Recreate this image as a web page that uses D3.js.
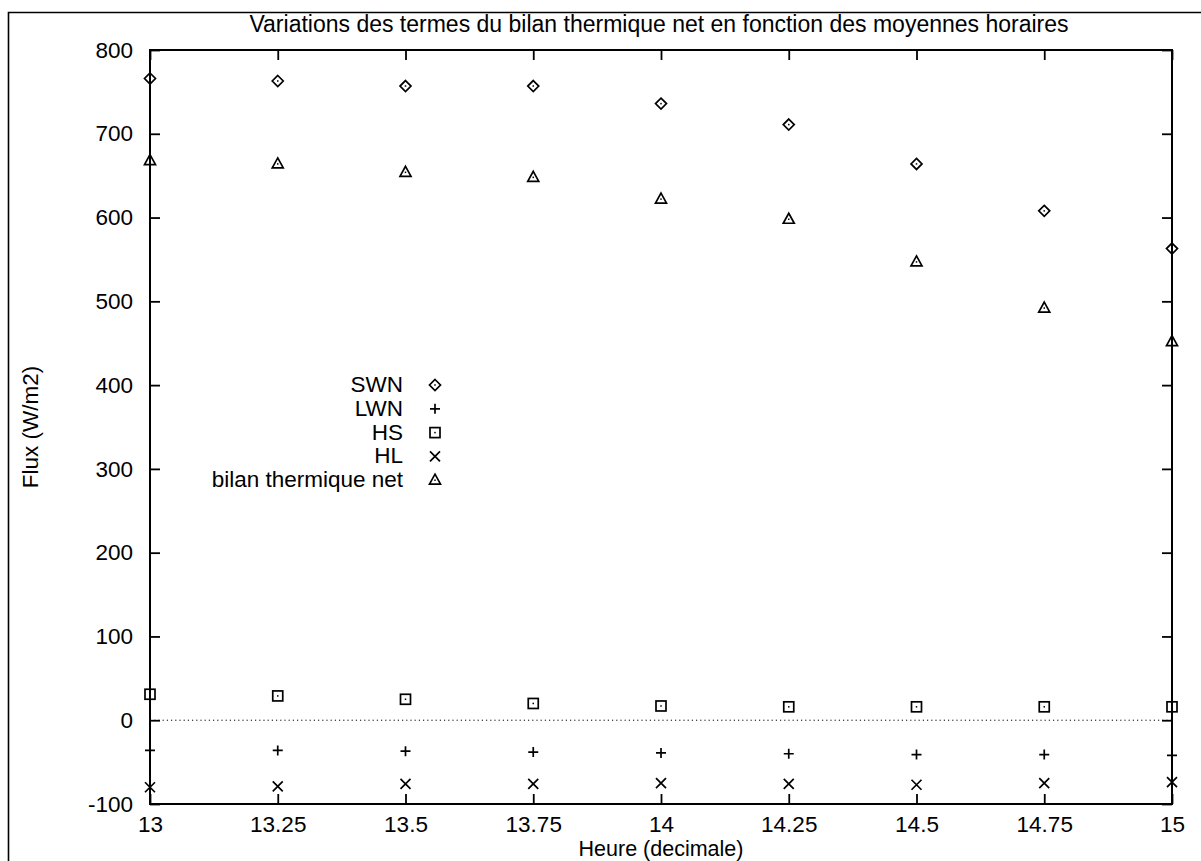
<!DOCTYPE html>
<html><head><meta charset="utf-8">
<script src="https://cdn.jsdelivr.net/npm/d3@7"></script>
<style>
html,body{margin:0;padding:0;background:#fff;}
text{font-family:"Liberation Sans",Arial,Helvetica,sans-serif;fill:#000;}
</style></head>
<body>
<svg id="chart" width="1201" height="861"></svg>
<script>
const hours = [13, 13.25, 13.5, 13.75, 14, 14.25, 14.5, 14.75, 15];
const SWN   = [766, 763, 757, 757, 736, 711, 664, 608, 563];
const LWN   = [-36, -36, -37, -38, -39, -40, -41, -41, -42];
const HS    = [31, 29, 25, 20, 17, 16, 16, 16, 16];
const HL    = [-80, -79, -76, -76, -75, -76, -77, -75, -74];
const bilan = [668, 664, 654, 648, 622, 598, 547, 492, 452];
const seriesNames = ["SWN", "LWN", "HS", "HL", "bilan thermique net"];
const seriesSymbols = ["diamond", "plus", "square", "cross", "triangle"];
const xTicks = [13, 13.25, 13.5, 13.75, 14, 14.25, 14.5, 14.75, 15];
const yTicks = [-100, 0, 100, 200, 300, 400, 500, 600, 700, 800];
const titleText = "Variations des termes du bilan thermique net en fonction des moyennes horaires";
const xLabel = "Heure (decimale)";
const yLabel = "Flux (W/m2)";

const seriesData = [SWN, LWN, HS, HL, bilan];

const svg = d3.select("#chart");
const L = 150, R = 1172, T = 50, B = 804;
const x = d3.scaleLinear().domain([13, 15]).range([L, R]);
const y = d3.scaleLinear().domain([-100, 800]).range([B, T]);
const FS = "22.5px";

// outer frame (extends beyond the picture on right/bottom)
svg.append("path")
  .attr("d", `M8.5,900 V12.5 H1210`)
  .attr("fill", "none").attr("stroke", "#000").attr("stroke-width", 1.6);

// zero dotted line
svg.append("line")
  .attr("x1", x(13)).attr("x2", x(15)).attr("y1", y(0)).attr("y2", y(0))
  .attr("stroke", "#000").attr("stroke-width", 1).attr("stroke-dasharray", "1.2,3");

// axes
const fmt = d => String(d);
const gB = svg.append("g").attr("transform", `translate(0,${B})`)
  .call(d3.axisBottom(x).tickValues(xTicks).tickFormat(fmt).tickSize(-10).tickPadding(12));
const gT = svg.append("g").attr("transform", `translate(0,${T})`)
  .call(d3.axisTop(x).tickValues(xTicks).tickFormat("").tickSize(-10));
const gL = svg.append("g").attr("transform", `translate(${L},0)`)
  .call(d3.axisLeft(y).tickValues(yTicks).tickFormat(fmt).tickSize(-10).tickPadding(17));
const gR = svg.append("g").attr("transform", `translate(${R},0)`)
  .call(d3.axisRight(y).tickValues(yTicks).tickFormat("").tickSize(-10));
[gB, gT, gL, gR].forEach(g => {
  g.select(".domain").remove();
  g.selectAll(".tick line").attr("stroke", "#000").attr("stroke-width", 1.8);
  g.selectAll(".tick text").style("font-size", FS).attr("fill", "#000")
   .style("font-family", '"Liberation Sans",Arial,sans-serif');
});

// plot frame
svg.append("rect").attr("x", L).attr("y", T).attr("width", R - L).attr("height", B - T)
  .attr("fill", "none").attr("stroke", "#000").attr("stroke-width", 2);

// title & axis labels
svg.append("text").attr("x", (L + R) / 2 - 2).attr("y", 32).attr("text-anchor", "middle")
  .style("font-size", "23px").text(titleText);
svg.append("text").attr("x", (L + R) / 2).attr("y", 855.5).attr("text-anchor", "middle")
  .style("font-size", "21.5px").text(xLabel);
svg.append("text").attr("transform", `translate(38,${(T + B) / 2}) rotate(-90)`)
  .attr("text-anchor", "middle").style("font-size", FS).text(yLabel);

// marker drawing
function drawMarker(g, type, cx, cy) {
  const s = 5;
  const st = {fill: "none", stroke: "#000", "stroke-width": 1.7};
  let p;
  if (type === "diamond") {
    p = g.append("path").attr("d", `M${cx},${cy - s - 0.5}L${cx + s + 0.5},${cy}L${cx},${cy + s + 0.5}L${cx - s - 0.5},${cy}Z`);
  } else if (type === "square") {
    p = g.append("rect").attr("x", cx - s).attr("y", cy - s).attr("width", 2 * s).attr("height", 2 * s);
  } else if (type === "triangle") {
    p = g.append("path").attr("d", `M${cx},${cy - s - 1}L${cx + s + 0.5},${cy + s - 1}L${cx - s - 0.5},${cy + s - 1}Z`);
  } else if (type === "plus") {
    p = g.append("path").attr("d", `M${cx - s},${cy}H${cx + s}M${cx},${cy - s}V${cy + s}`);
  } else if (type === "cross") {
    p = g.append("path").attr("d", `M${cx - s},${cy - s}L${cx + s},${cy + s}M${cx + s},${cy - s}L${cx - s},${cy + s}`);
  }
  Object.entries(st).forEach(([k, v]) => p.attr(k, v));
  if (type === "diamond" || type === "square" || type === "triangle") {
    g.append("rect").attr("x", cx - 0.75).attr("y", cy - 0.75).attr("width", 1.5).attr("height", 1.5).attr("fill", "#000");
  }
}

const pts = svg.append("g");
seriesData.forEach((vals, i) => {
  vals.forEach((v, j) => drawMarker(pts, seriesSymbols[i], x(hours[j]), y(v)));
});

// legend
const leg = svg.append("g");
const legY0 = 392, legDy = 23.8;
seriesNames.forEach((name, i) => {
  const yy = legY0 + i * legDy;
  leg.append("text").attr("x", 403).attr("y", yy).attr("text-anchor", "end")
    .style("font-size", FS).text(name);
  drawMarker(leg, seriesSymbols[i], 435, yy - 7);
});
</script>
</body></html>
